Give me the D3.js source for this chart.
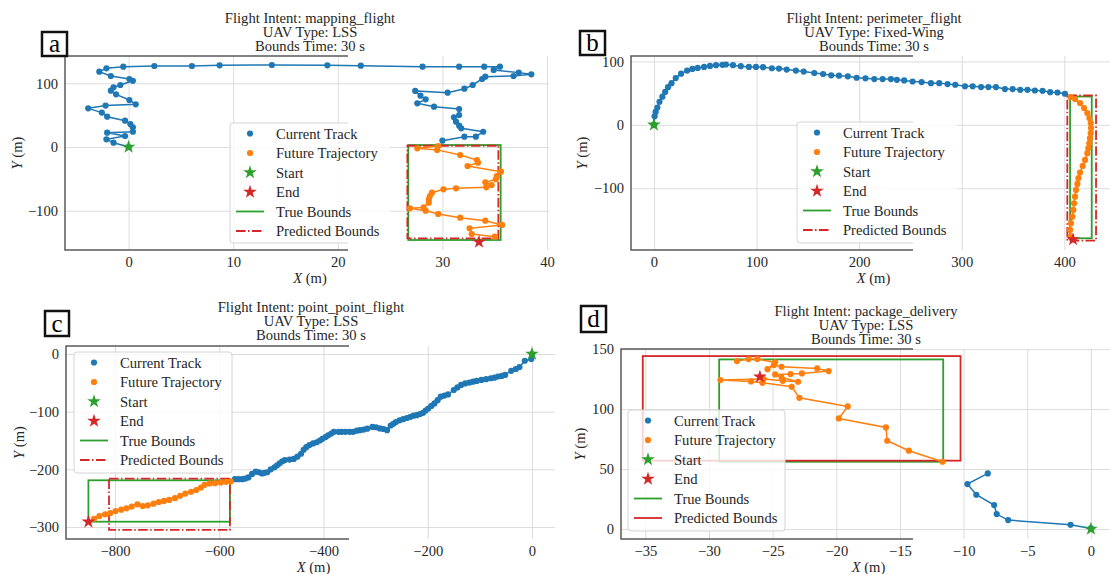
<!DOCTYPE html>
<html>
<head>
<meta charset="utf-8">
<script src="https://cdn.jsdelivr.net/npm/d3@7"></script>
<style>
body { margin: 0; background: #fff; }
svg text { font-family: "Liberation Serif", "DejaVu Serif", serif; fill: #262626; }
</style>
</head>
<body>
<svg id="fig" width="1110" height="574"></svg>
<script>
// ---- data (metres) ----
var titlesA = ["Flight Intent: mapping_flight", "UAV Type: LSS", "Bounds Time: 30 s"];
var titlesB = ["Flight Intent: perimeter_flight", "UAV Type: Fixed-Wing", "Bounds Time: 30 s"];
var titlesC = ["Flight Intent: point_point_flight", "UAV Type: LSS", "Bounds Time: 30 s"];
var titlesD = ["Flight Intent: package_delivery", "UAV Type: LSS", "Bounds Time: 30 s"];

var legendLabels = ["Current Track", "Future Trajectory", "Start", "End", "True Bounds", "Predicted Bounds"];

var xTicksA = [0, 10, 20, 30, 40], yTicksA = [-100, 0, 100];
var xTicksB = [0, 100, 200, 300, 400], yTicksB = [-100, 0, 100];
var xTicksC = [-800, -600, -400, -200, 0], yTicksC = [-300, -200, -100, 0];
var xTicksD = [-35, -30, -25, -20, -15, -10, -5, 0], yTicksD = [0, 50, 100, 150];

var trackA = [[0,0],[-1.44,6.8],[-2.12,12],[-0.34,17.3],[-2.05,22.5],[0.41,24],[0.41,31],[0.17,36],[-0.34,41.4],
  [-2.05,47.6],[-2.56,54],[-3.86,60.7],[-2.2,65],[0.68,67],[0.07,73.8],[-1.2,82.7],[-1.7,88.5],[-1.44,93.7],
  [-0.79,97.4],[0.41,104],[0.07,106.8],[-1.7,111.5],[-2.8,118.3],[-2.12,123.6],[-0.51,126.2],[2.46,127.2],
  [6.05,127.2],[8.7,128.3],[13.7,128.8],[19.0,128.3],[22.2,127.7],[28.1,126.2],[31.6,126.2],[34.0,126.2],
  [35.5,126.2],[34.9,121],[37.3,116.8],[38.5,114.1],[36.8,111.5],[34.1,110.5],[33.8,106.8],[32.9,97.4],
  [32.1,91.6],[30.5,85.3],[27.4,88],[27.9,80.6],[28.4,74.9],[27.6,68.6],[29.2,63.4],[31.6,59.7],[31.6,50.3],
  [31.1,46.6],[31.3,39.8],[31.6,33.5],[31.8,29.3],[33.9,24],[33.2,16.2],[32.1,16.2],[30.0,9.9]];
var futureA = [[29.6,1.6],[27.6,-2.1],[29.5,-4.5],[31.7,-12.6],[33.3,-20.4],[33.4,-24.6],[32.4,-29.8],[35.6,-38.7],
  [35.2,-45.5],[35.1,-50.8],[34.1,-55.5],[34.7,-59.7],[34.2,-63.3],[31.3,-64.9],[30.1,-66.4],[29.0,-71.7],
  [28.8,-76.9],[28.7,-82.2],[28.7,-87.4],[28.2,-94.8],[26.9,-96.3],[28.4,-100],[29.6,-105.2],[31.7,-111],
  [34.1,-115.7],[35.7,-122.4],[32.6,-127.7],[32.8,-136.6],[35.0,-140.8]];
var startA = [0, 0], endA = [33.5, -149];
var trueBoundsA = [26.74, 35.57, -146, 3.1];   // xmin, xmax, ymin, ymax
var predBoundsA = [26.65, 35.35, -143.4, 2.0];

var trackB = [[0,0],[0.7,13.4],[1.7,20.3],[3.4,27.3],[5.5,36.4],[8.3,44.4],[11.0,51.9],[13.8,59.4],[17.2,65.8],
  [21.3,73.8],[26.5,80.7],[32.4,85.6],[37.5,88.2],[42.7,89.8],[48.9,91.4],[54.7,93],[60.6,94.1],[66.8,94.7],
  [70.2,95.2],[77.1,94.1],[84.7,92.5],[92.6,91.4],[99.5,91.4],[106.4,90.9],[115,89.3],[121.9,88.8],[129.4,87.2],
  [138.4,85.6],[146,84],[156.3,81.8],[164.9,80.2],[172.8,78.1],[180.4,77.5],[189,76.5],[197.6,74.3],[206.2,73.3],
  [214.8,72.2],[222.9,72.2],[231,72.2],[236.8,71],[243.9,70],[252.1,68.4],[260.9,67.4],[270,65.8],[278.1,65.8],
  [286.2,64.3],[293.7,63.2],[303.2,60.7],[310.7,60.7],[318.8,59.6],[326,59.6],[333.4,59.6],[342.1,56.4],
  [349.6,56.4],[357,55.3],[364.1,55.3],[371.3,54.2],[378.8,53.7],[386.2,51.6],[393.3,51],[400.6,49]];
var futureB = [[406.2,43.7],[410.4,40.6],[415.3,34.3],[419.2,26.4],[422.4,18.5],[424.4,10.6],[425.7,2.7],[426,-5.2],
  [425.7,-13.1],[425,-21],[424.4,-28.9],[423.4,-36.8],[422.4,-44.7],[420.2,-55.3],[417.9,-64.8],[415.3,-75.4],
  [413.7,-84.2],[412.7,-93.2],[411.4,-102.7],[410.4,-113.3],[409.5,-123.7],[408.8,-134.3],[407.8,-144.9],
  [406.5,-155.3],[405.6,-165.9],[406.2,-176.5]];
var startB = [0, 0], endB = [408.5, -181];
var trueBoundsB = [405.6, 426.7, -179, 44.7];
var predBoundsB = [402.9, 430.9, -182.8, 46.3];

var trackC = [[0,0],[-1.4,-8.7],[-13.7,-11.7],[-24,-22.7],[-31,-26],[-39.8,-29.2],[-51.5,-36.2],[-58,-38],[-65.2,-39],
  [-72,-41],[-79,-42],[-88,-43.7],[-97,-45],[-106,-46.6],[-113,-48],[-120,-49.6],[-128,-51],[-136,-53.6],[-143,-58],
  [-150,-62.4],[-161,-70],[-168,-72],[-175,-74],[-181,-80],[-187,-85.7],[-193,-90],[-199,-94.5],[-204,-98],
  [-209,-102],[-215,-104],[-221,-106],[-227,-107],[-233,-109],[-240,-111],[-247,-113],[-254,-115],[-261,-118],
  [-266,-121],[-271,-124],[-278,-132],[-285,-130],[-292,-129],[-299,-127],[-306,-126.5],[-316,-129.4],[-323,-131],
  [-330,-132],[-336,-133],[-343,-135],[-350,-135],[-358,-135],[-365,-135],[-371,-135],[-380,-135],[-385,-138],
  [-391,-141],[-396,-144],[-402,-147],[-407,-150],[-413,-153],[-420,-155],[-427,-158],[-433,-161.5],[-438,-166],
  [-443,-173],[-450,-178],[-457,-182],[-465,-183],[-474,-184],[-479,-186],[-484,-189.5],[-489,-193],[-494,-196.5],
  [-501,-200],[-508,-205],[-513,-206],[-518,-207],[-524,-205],[-530,-204],[-537,-208],[-544,-214],[-550,-216],
  [-556,-217],[-563,-217],[-570,-217]];
var futureC = [[-578,-221],[-587,-221.6],[-597,-222.7],[-608,-224],[-618,-224.5],[-628,-226.8],[-635,-231.5],
  [-644,-236],[-654,-239],[-665,-242],[-675,-246],[-685,-250],[-696,-253],[-706,-254.8],[-716,-256.6],
  [-726,-259.5],[-737,-262.4],[-747,-263.6],[-757,-260.6],[-768,-264.7],[-778,-267.6],[-788,-270],[-799,-272.3],
  [-809,-275.8],[-819,-278],[-830,-281],[-840,-285.7]];
var startC = [0, 0], endC = [-851, -291];
var trueBoundsC = [-851, -579.5, -290.8, -219];
var predBoundsC = [-811.5, -579.5, -305, -216];

var trackD = [[0,0.5],[-1.6,3.6],[-6.5,7.5],[-7.4,12.5],[-7.6,20],[-9.0,28.6],[-9.7,37.5],[-8.1,46.4]];
var futureD = [[-11.65,56.1],[-14.3,65.3],[-16.0,73.6],[-16.1,84.7],[-19.8,92.2],[-19.1,102.2],[-22.9,109.4],
  [-23.5,118.6],[-25.8,121.9],[-26.7,123.1],[-29.1,124.2],[-25.7,125.0],[-24.2,123.6],[-23.0,122.8],[-24.3,126.4],
  [-24.8,128.9],[-23.6,129.2],[-22.7,129.7],[-20.6,131.7],[-21.5,133.9],[-24.3,135.3],[-24.9,136.7],[-25.4,133.3],
  [-24.8,138.9],[-26.2,141.7],[-26.9,141.7],[-27.8,140.0]];
var startD = [0, 0], endD = [-26.0, 126.9];
var trueBoundsD = [-29.2, -11.6, 56.1, 141.4];
var predBoundsD = [-35.2, -10.24, 57, 144.2];

// ---- layout ----
var panels = [
  {id: "a", titles: titlesA, track: trackA, future: futureA, start: startA, end: endA, tb: trueBoundsA, pb: predBoundsA,
   xt: xTicksA, yt: yTicksA, xd: [-6.08, 40.19], yd: [-161.7, 142.9], l: 65, t: 56, r: 549, b: 250, cut: 348,
   tx: 310, ty: 23, ylx: 17, lab: [42, 32, 25, 24], leg: [230, 123, 160, 120], dash: true},
  {id: "b", titles: titlesB, track: trackB, future: futureB, start: startB, end: endB, tb: trueBoundsB, pb: predBoundsB,
   xt: xTicksB, yt: yTicksB, xd: [-22.3, 444.5], yd: [-197.5, 108.6], l: 631, t: 56, r: 1110, b: 250, cut: 913,
   tx: 874, ty: 23, ylx: 581.5, lab: [580, 31, 25, 24], leg: [797, 122, 160, 121], dash: true},
  {id: "c", titles: titlesC, track: trackC, future: futureC, start: startC, end: endC, tb: trueBoundsC, pb: predBoundsC,
   xt: xTicksC, yt: yTicksC, xd: [-894, 44.2], yd: [-320.8, 13.9], l: 66, t: 346, r: 555, b: 539, cut: 349,
   tx: 311, ty: 312, ylx: 18.6, lab: [45, 311, 24, 25], leg: [74, 352, 158, 121], dash: true},
  {id: "d", titles: titlesD, track: trackD, future: futureD, start: startD, end: endD, tb: trueBoundsD, pb: predBoundsD,
   xt: xTicksD, yt: yTicksD, xd: [-36.91, 1.5], yd: [-8.3, 150.1], l: 621, t: 349, r: 1110, b: 539, cut: 913,
   tx: 866, ty: 315.5, ylx: 580, lab: [581, 306, 25, 26], leg: [628, 410, 157, 121], dash: false}
];

var BLUE = "#1f77b4", ORANGE = "#ff7f0e", GREEN = "#2ca02c", RED = "#d62728";
var DASHDOT = "9.6,2.4,1.5,2.4";
var FS = 14.6;

var svg = d3.select("#fig"),
    H = +svg.attr("height");
var defs = svg.append("defs");
var star = d3.symbol().type(d3.symbolStar).size(58);

function drawPanel(p) {
  var g = svg.append("g");
  var x = d3.scaleLinear().domain(p.xd).range([p.l, p.r]);
  var y = d3.scaleLinear().domain(p.yd).range([p.b, p.t]);

  defs.append("clipPath").attr("id", "clip" + p.id).append("rect")
    .attr("x", p.l).attr("y", p.t).attr("width", p.r - p.l).attr("height", p.b - p.t);
  defs.append("clipPath").attr("id", "cut" + p.id).append("rect")
    .attr("x", 0).attr("y", 0).attr("width", p.cut).attr("height", H);

  // grid
  g.append("g").attr("transform", "translate(0," + p.b + ")")
    .call(d3.axisBottom(x).tickValues(p.xt).tickSize(-(p.b - p.t)).tickFormat(""))
    .call(function(a) { a.select(".domain").remove(); })
    .selectAll("line").attr("stroke", "#dcdcdc").attr("stroke-width", 1);
  g.append("g").attr("transform", "translate(" + p.l + ",0)")
    .call(d3.axisLeft(y).tickValues(p.yt).tickSize(-(p.r - p.l)).tickFormat(""))
    .call(function(a) { a.select(".domain").remove(); })
    .selectAll("line").attr("stroke", "#dcdcdc").attr("stroke-width", 1);

  var pl = g.append("g").attr("clip-path", "url(#clip" + p.id + ")");

  // bounds
  pl.append("rect")
    .attr("x", x(p.tb[0])).attr("y", y(p.tb[3]))
    .attr("width", x(p.tb[1]) - x(p.tb[0])).attr("height", y(p.tb[2]) - y(p.tb[3]))
    .attr("fill", "none").attr("stroke", GREEN).attr("stroke-width", 1.8);
  pl.append("rect")
    .attr("x", x(p.pb[0])).attr("y", y(p.pb[3]))
    .attr("width", x(p.pb[1]) - x(p.pb[0])).attr("height", y(p.pb[2]) - y(p.pb[3]))
    .attr("fill", "none").attr("stroke", RED).attr("stroke-width", 1.8)
    .attr("stroke-dasharray", p.dash ? DASHDOT : null);

  var line = d3.line().x(function(d) { return x(d[0]); }).y(function(d) { return y(d[1]); });

  [[p.track, BLUE], [p.future, ORANGE]].forEach(function(s) {
    pl.append("path").datum(s[0]).attr("d", line)
      .attr("fill", "none").attr("stroke", s[1]).attr("stroke-width", 1.5);
    pl.selectAll(null).data(s[0]).enter().append("circle")
      .attr("cx", function(d) { return x(d[0]); })
      .attr("cy", function(d) { return y(d[1]); })
      .attr("r", 3.1).attr("fill", s[1]);
  });

  [[p.start, GREEN], [p.end, RED]].forEach(function(s) {
    pl.append("path").attr("d", star)
      .attr("transform", "translate(" + x(s[0][0]) + "," + y(s[0][1]) + ")")
      .attr("fill", s[1]);
  });

  // spines (only drawn left of the cut)
  g.append("path").attr("clip-path", "url(#cut" + p.id + ")")
    .attr("d", "M" + p.r + "," + p.t + "H" + p.l + "V" + p.b + "H" + p.r)
    .attr("fill", "none").attr("stroke", "#595959").attr("stroke-width", 1.5);

  // tick labels
  var ax = g.append("g").attr("transform", "translate(0," + p.b + ")")
    .call(d3.axisBottom(x).tickValues(p.xt).tickSize(0).tickPadding(7).tickFormat(d3.format("d")));
  ax.select(".domain").remove();
  ax.selectAll("text").attr("font-size", FS).attr("font-family", null).attr("fill", null);
  var ay = g.append("g").attr("transform", "translate(" + p.l + ",0)")
    .call(d3.axisLeft(y).tickValues(p.yt).tickSize(0).tickPadding(7).tickFormat(d3.format("d")));
  ay.select(".domain").remove();
  ay.selectAll("text").attr("font-size", FS).attr("font-family", null).attr("fill", null);

  // axis labels
  var xl = g.append("text").attr("x", (p.l + p.r) / 2 + 3).attr("y", p.b + 33)
    .attr("text-anchor", "middle").attr("font-size", FS);
  xl.append("tspan").attr("font-style", "italic").text("X");
  xl.append("tspan").text(" (m)");
  var yl = g.append("text")
    .attr("transform", "translate(" + p.ylx + "," + (p.t + p.b) / 2 + ") rotate(-90)")
    .attr("dy", "0.35em").attr("text-anchor", "middle").attr("font-size", FS);
  yl.append("tspan").attr("font-style", "italic").text("Y");
  yl.append("tspan").text(" (m)");

  // title
  g.selectAll(null).data(p.titles).enter().append("text")
    .attr("x", p.tx).attr("y", function(d, i) { return p.ty + i * 14.2; })
    .attr("text-anchor", "middle").attr("font-size", FS)
    .text(function(d) { return d; });

  // panel letter
  g.append("rect").attr("x", p.lab[0]).attr("y", p.lab[1]).attr("width", p.lab[2]).attr("height", p.lab[3])
    .attr("fill", "#fff").attr("stroke", "#111").attr("stroke-width", 2.5);
  g.append("text").attr("x", p.lab[0] + p.lab[2] / 2).attr("y", p.lab[1] + p.lab[3] / 2)
    .attr("dy", "0.33em").attr("text-anchor", "middle").attr("font-size", 25).style("fill", "#000")
    .text(p.id);

  // legend
  var lx = p.leg[0], ly = p.leg[1], lw = p.leg[2], lh = p.leg[3];
  var lg = g.append("g");
  lg.append("rect").attr("x", lx).attr("y", ly).attr("width", lw).attr("height", lh).attr("rx", 3)
    .attr("fill", "#fff").attr("fill-opacity", 0.8);
  lg.append("rect").attr("clip-path", "url(#cut" + p.id + ")")
    .attr("x", lx).attr("y", ly).attr("width", lw).attr("height", lh).attr("rx", 3)
    .attr("fill", "none").attr("stroke", "#d4d4d4").attr("stroke-width", 1);
  legendLabels.forEach(function(lbl, i) {
    var cy = ly + 10.5 + i * 19.5, mx = lx + 20;
    if (i < 2) {
      lg.append("circle").attr("cx", mx).attr("cy", cy).attr("r", 3.1).attr("fill", i === 0 ? BLUE : ORANGE);
    } else if (i < 4) {
      lg.append("path").attr("d", star).attr("transform", "translate(" + mx + "," + cy + ")")
        .attr("fill", i === 2 ? GREEN : RED);
    } else {
      lg.append("line").attr("x1", lx + 6).attr("x2", lx + 34).attr("y1", cy).attr("y2", cy)
        .attr("stroke", i === 4 ? GREEN : RED).attr("stroke-width", 1.8)
        .attr("stroke-dasharray", (i === 5 && p.dash) ? DASHDOT : null);
    }
    lg.append("text").attr("x", lx + 46).attr("y", cy).attr("dy", "0.35em").attr("font-size", FS).text(lbl);
  });
}

panels.forEach(drawPanel);
</script>
</body>
</html>
